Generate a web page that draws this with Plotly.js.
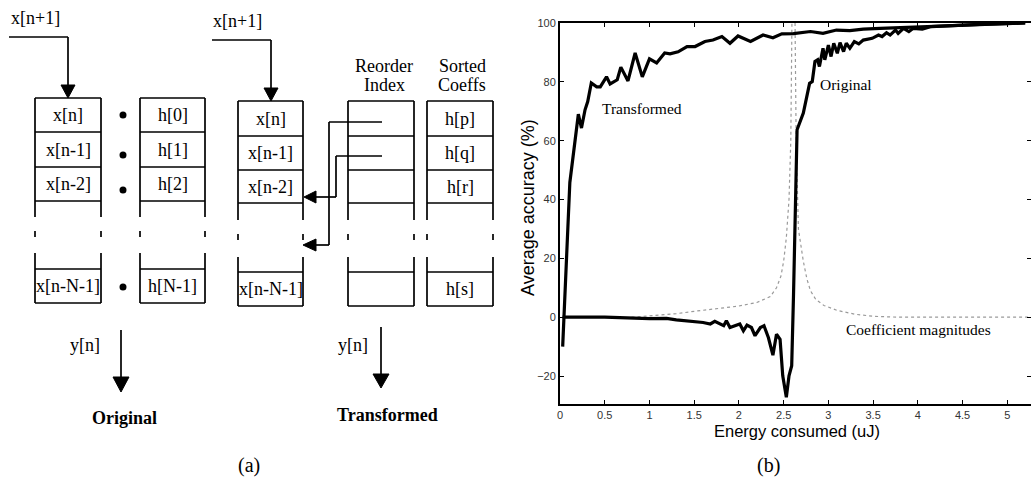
<!DOCTYPE html>
<html>
<head>
<meta charset="utf-8">
<script src="https://cdn.plot.ly/plotly-3.0.1.min.js"></script>
<style>html,body{margin:0;padding:0;background:#fff;}#chart{width:1031px;height:478px;}</style>
</head>
<body>
<div id="chart"></div>
<script>
// ---------- data (panel b) ----------
const transformedX = [0.03,0.11,0.205,0.24,0.28,0.31,0.35,0.41,0.45,0.52,0.56,0.64,0.68,0.76,0.84,0.92,1.0,1.08,1.17,1.23,1.32,1.42,1.51,1.62,1.71,1.81,1.90,1.99,2.13,2.27,2.38,2.48,2.61,2.80,2.94,3.09,3.24,3.39,3.58,3.8,4.0,4.25,4.5,4.75,5.0,5.2];
const transformedY = [-10,45.8,69,64.3,70.5,73.3,79.6,78.3,78.3,81.7,79.3,80.7,85,80.3,89.8,81.7,87.8,86.4,89.8,89.5,90.2,92.0,92.0,93.7,94.2,95.4,93.1,95.6,93.7,95.9,95.0,96.3,96.4,97.1,96.5,97.6,97.4,97.9,98.2,98.4,98.8,99.0,99.3,99.5,99.8,100];

const originalX = [0.03,0.5,1.0,1.19,1.3,1.42,1.47,1.6,1.68,1.73,1.83,1.86,1.9,2.01,2.05,2.09,2.14,2.18,2.24,2.28,2.33,2.38,2.42,2.46,2.49,2.53,2.56,2.59,2.61,2.65,2.72,2.79,2.82,2.85,2.88,2.90,2.94,2.96,3.0,3.03,3.06,3.10,3.13,3.17,3.20,3.24,3.29,3.34,3.39,3.49,3.56,3.60,3.65,3.69,3.75,3.78,3.84,3.90,3.95,4.05,4.15,4.3,4.5,4.75,5.0,5.2];
const originalY = [0,0,-0.5,-0.4,-0.9,-1.2,-1.5,-1.8,-2.3,-1.4,-2.9,-1.2,-3.5,-2.3,-4.6,-2.7,-3.5,-6.3,-3.5,-2.9,-7.0,-12.9,-5.8,-7.5,-19.9,-27.2,-19.9,-16.5,7.2,63.7,69.4,79.5,80.1,86.9,87.5,85.2,91.4,87.5,92.5,88.6,93.1,89.7,93.3,90.3,93.1,91.4,93.7,92.9,94.2,94.8,95.9,95.4,96.7,95.9,97.6,96.5,98.2,97.1,98.2,97.9,98.8,98.9,99.3,99.6,99.8,100];

const coeffX = [0.8,1.0,1.3,1.5,1.8,2.0,2.2,2.35,2.42,2.47,2.5,2.53,2.56,2.58,2.605,2.615,2.64,2.665,2.69,2.72,2.76,2.8,2.86,2.95,3.1,3.3,3.5,3.8,5.3];
const coeffY = [0,0.5,1.2,2,3,3.8,5,7,10,14,19,27,40,60,140,140,60,30,25,19,13,9,6,4,2.3,1,0.3,0,0];

const xTicks = [0,0.5,1,1.5,2,2.5,3,3.5,4,4.5,5];
const yTicks = [-20,0,20,40,60,80,100];

// ---------- diagram labels (panel a) ----------
const originalCells = ['x[n]','x[n-1]','x[n-2]','x[n-N-1]'];
const coefCells = ['h[0]','h[1]','h[2]','h[N-1]'];
const transformedCells = ['x[n]','x[n-1]','x[n-2]','x[n-N-1]'];
const sortedCells = ['h[p]','h[q]','h[r]','h[s]'];
const inputLabel = 'x[n+1]';
const outputLabel = 'y[n]';

// ---------- geometry helpers (figure pixel -> paper) ----------
const W = 1031, H = 478;
const PX = x => x / W;
const PY = y => 1 - y / H;
const shapes = [];
const annotations = [];
const LW = 1.7;
const SERIF = 'Liberation Serif, Times New Roman, serif';
const SANS = 'Liberation Sans, Arial, sans-serif';
function seg(x0,y0,x1,y1,w){ shapes.push({type:'line',xref:'paper',yref:'paper',x0:PX(x0),y0:PY(y0),x1:PX(x1),y1:PY(y1),line:{color:'#000',width:w||LW}}); }
function poly(pts){ for(let i=0;i<pts.length-1;i++){ seg(pts[i][0],pts[i][1],pts[i+1][0],pts[i+1][1]); } }
function tri(pts){
  const d = 'M ' + pts.map(p => PX(p[0]) + ',' + PY(p[1])).join(' L ') + ' Z';
  shapes.push({type:'path',xref:'paper',yref:'paper',path:d,fillcolor:'#000',line:{color:'#000',width:1}});
}
function dot(x,y,r){ shapes.push({type:'circle',xref:'paper',yref:'paper',x0:PX(x-r),x1:PX(x+r),y0:PY(y+r),y1:PY(y-r),fillcolor:'#000',line:{color:'#000',width:0}}); }
function txt(t,x,y,opt){
  opt = opt || {};
  annotations.push({text:t,xref:'paper',yref:'paper',x:PX(x),y:PY(y),showarrow:false,xanchor:opt.xanchor||'center',yanchor:'middle',
    textangle:opt.angle||0,font:{family:opt.family||SERIF,size:opt.size||18,color:'#000'}});
}
// column of registers
function column(x0,x1,g,labels){
  seg(x0,g.top,x1,g.top);
  g.rows.forEach(r => seg(x0,r,x1,r));
  seg(x0,g.top,x0,g.sideEnd); seg(x1,g.top,x1,g.sideEnd);
  seg(x0,g.tick0,x0,g.tick1); seg(x1,g.tick0,x1,g.tick1);
  seg(x0,g.low0,x0,g.bottom); seg(x1,g.low0,x1,g.bottom);
  seg(x0,g.lastTop,x1,g.lastTop); seg(x0,g.bottom,x1,g.bottom);
  if(labels){
    const cx = (x0+x1)/2;
    const cy = [(g.top+g.rows[0])/2,(g.rows[0]+g.rows[1])/2,(g.rows[1]+g.rows[2])/2,(g.lastTop+g.bottom)/2];
    labels.forEach((t,i)=>txt(t,cx,cy[i]));
  }
}
const gA = {top:98,rows:[132,167,201],sideEnd:217,tick0:231,tick1:237,low0:253,lastTop:269,bottom:303};
const gB = {top:101,rows:[136,170,203],sideEnd:220,tick0:234,tick1:240,low0:257,lastTop:272,bottom:306};
column(35,101,gA,originalCells);
column(140,205,gA,coefCells);
column(238,303,gB,transformedCells);
column(348,414,gB,null);
column(427,493,gB,sortedCells);
// dot products
[115,155,190,287].forEach(y=>dot(123,y,3.5));
// input arrows
txt(inputLabel,9,18,{xanchor:'left'});
poly([[9,37],[68,37],[68,86]]); tri([[68,98],[61,85],[75,85]]);
txt(inputLabel,211,21,{xanchor:'left'});
poly([[212,40],[271,40],[271,89]]); tri([[271,101],[264,88],[278,88]]);
// reorder index headers
txt('Reorder',384,66); txt('Index',384,85);
txt('Sorted',462,66); txt('Coeffs',462,85);
// reorder pointers
poly([[382,122],[329,122],[329,245],[316,245]]); tri([[303,245],[316,239],[316,251]]);
poly([[382,156],[336,156],[336,197],[316,197]]); tri([[304,197],[316,191],[316,203]]);
// outputs
txt(outputLabel,85,345); seg(121,330,121,378); tri([[121,392],[113,377],[129,377]]);
txt(outputLabel,353,345); seg(381,327,381,375); tri([[381,388],[373,374],[389,374]]);
txt('<b>Original</b>',124,418);
txt('<b>Transformed</b>',387,415);
txt('(a)',249,465,{size:20});
txt('(b)',768,465,{size:20});
// axis titles of panel b
txt('Average accuracy (%)',528,208,{angle:-90,family:SANS,size:18});
txt('Energy consumed (uJ)',797,431,{family:SANS,size:16.5});

// chart annotations (data coordinates)
annotations.push({text:'Transformed',x:0.45,y:70.8,xref:'x',yref:'y',xanchor:'left',yanchor:'middle',showarrow:false,font:{family:SERIF,size:15.5,color:'#000'}});
annotations.push({text:'Original',x:2.88,y:79.2,xref:'x',yref:'y',xanchor:'left',yanchor:'middle',showarrow:false,font:{family:SERIF,size:15.5,color:'#000'}});
annotations.push({text:'Coefficient magnitudes',x:3.17,y:-4.2,xref:'x',yref:'y',xanchor:'left',yanchor:'middle',showarrow:false,font:{family:SERIF,size:15.5,color:'#000'}});

const traces = [
  {x:coeffX,y:coeffY,type:'scatter',mode:'lines',line:{color:'#9a9a9a',width:1.2,dash:'dot'},hoverinfo:'skip'},
  {x:transformedX,y:transformedY,type:'scatter',mode:'lines',line:{color:'#000',width:3.2},hoverinfo:'skip'},
  {x:originalX,y:originalY,type:'scatter',mode:'lines',line:{color:'#000',width:3.2},hoverinfo:'skip'}
];

const tickFont = {family:SANS,size:11,color:'#333'};
const layout = {
  width:W,height:H,margin:{l:0,r:0,t:0,b:0},
  paper_bgcolor:'#fff',plot_bgcolor:'rgba(0,0,0,0)',showlegend:false,
  xaxis:{domain:[560/W,1],range:[0,5.265],tickvals:xTicks,ticktext:xTicks.map(String),ticks:'inside',ticklen:4,tickwidth:1,tickcolor:'#000',
    showline:true,linecolor:'#000',linewidth:2,mirror:'ticks',showgrid:false,zeroline:false,tickfont:tickFont,fixedrange:true},
  yaxis:{domain:[(H-404)/H,(H-23)/H],range:[-29.5,100],tickvals:yTicks,ticktext:yTicks.map(v=>v<0?'\u2212'+Math.abs(v):String(v)),ticks:'inside',ticklen:4,tickwidth:1,tickcolor:'#000',
    showline:true,linecolor:'#000',linewidth:2,mirror:'ticks',showgrid:false,zeroline:false,tickfont:tickFont,fixedrange:true},
  shapes:shapes,annotations:annotations
};
Plotly.newPlot('chart',traces,layout,{staticPlot:true,displayModeBar:false});
</script>
</body>
</html>
